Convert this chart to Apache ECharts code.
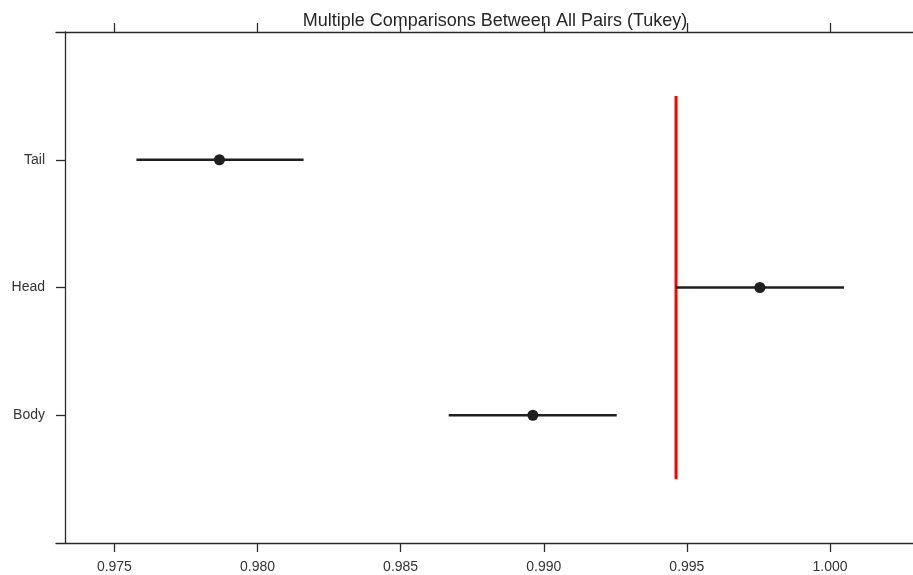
<!DOCTYPE html>
<html>
<head>
<meta charset="utf-8">
<script src="https://cdn.jsdelivr.net/npm/echarts@6/dist/echarts.min.js"></script>
<style>
  html, body { margin: 0; padding: 0; background: #fff; }
  #chart { width: 913px; height: 575px; }
</style>
</head>
<body>
<div id="chart"></div>
<script>
// group order from bottom to top
const groups = ['Body', 'Head', 'Tail'];
const estimates = [0.98962, 0.99755, 0.97867];
const lower = [0.98668, 0.99462, 0.97577];
const upper = [0.99255, 1.00049, 0.98161];
const xTicks = [0.975, 0.980, 0.985, 0.990, 0.995, 1.000];
const refValue = 0.99462;
const refSpan = [-0.5, 2.5];

const ink = '#1f1f1f';
const axisColor = '#2b2b2b';
const fontFamily = "'Liberation Sans', Arial, sans-serif";

const chart = echarts.init(document.getElementById('chart'));

const xMin = 0.97296;
const xMax = 1.0029;

const barSeries = groups.map((g, i) => ({
  name: g,
  type: 'line',
  data: [[lower[i], i], [upper[i], i]],
  symbol: 'none',
  lineStyle: { color: ink, width: 2.6 },
  z: 3,
}));

const option = {
  animation: false,
  backgroundColor: '#fff',
  title: {
    text: 'Multiple Comparisons Between All Pairs (Tukey)',
    left: 490,
    textAlign: 'center',
    top: 7,
    textStyle: { fontFamily, fontSize: 18, fontWeight: 'normal', color: '#262626' },
  },
  grid: { left: 56, right: 0, top: 32, bottom: 32 },
  xAxis: [
    {
      type: 'value',
      position: 'bottom',
      min: xMin,
      max: xMax,
      splitLine: { show: false },
      axisLine: { show: true, onZero: false, lineStyle: { color: axisColor, width: 1.3 } },
      axisTick: {
        show: true,
        customValues: xTicks,
        length: 9,
        lineStyle: { color: axisColor, width: 1.3 },
      },
      axisLabel: {
        customValues: xTicks,
        margin: 17,
        color: '#333',
        fontFamily,
        fontSize: 14,
        formatter: (v) => v.toFixed(3),
      },
    },
    {
      type: 'value',
      position: 'top',
      min: xMin,
      max: xMax,
      splitLine: { show: false },
      axisLine: { show: true, onZero: false, lineStyle: { color: axisColor, width: 1.3 } },
      axisTick: {
        show: true,
        customValues: xTicks,
        length: 9,
        lineStyle: { color: axisColor, width: 1.3 },
      },
      axisLabel: { show: false },
    },
  ],
  yAxis: {
    type: 'value',
    min: -1,
    max: 3,
    offset: -9,
    splitLine: { show: false },
    axisLine: { show: true, onZero: false, lineStyle: { color: axisColor, width: 1.3 } },
    axisTick: {
      show: true,
      customValues: [0, 1, 2],
      length: 9,
      lineStyle: { color: axisColor, width: 1.3 },
    },
    axisLabel: {
      customValues: [0, 1, 2],
      margin: 20,
      color: '#333',
      fontFamily,
      fontSize: 14,
      formatter: (v) => groups[Math.round(v)] || '',
    },
  },
  series: [
    {
      name: 'reference',
      type: 'line',
      data: [[refValue, refSpan[0]], [refValue, refSpan[1]]],
      symbol: 'none',
      lineStyle: { color: '#ff0000', width: 3 },
      z: 2,
    },
    ...barSeries,
    {
      name: 'estimate',
      type: 'scatter',
      data: estimates.map((v, i) => [v, i]),
      symbolSize: 11,
      itemStyle: { color: ink, opacity: 1 },
      z: 4,
    },
  ],
};

chart.setOption(option);
</script>
</body>
</html>
